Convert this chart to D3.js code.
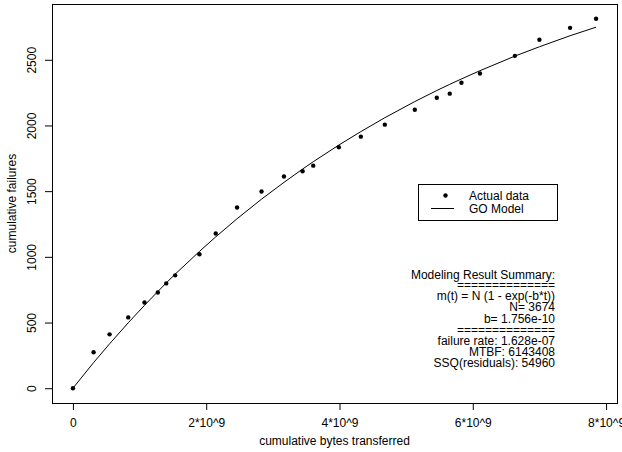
<!DOCTYPE html>
<html>
<head>
<meta charset="utf-8">
<script src="https://cdn.jsdelivr.net/npm/d3@7"></script>
<style>
  body { margin: 0; background: #fff; }
  svg, svg text { font-family: "Liberation Sans", Arial, sans-serif; }
  svg { display: block; }
  .tick text { font-size: 12px; fill: #000; }
  .tick line { stroke: #000; }
</style>
</head>
<body>
<svg id="chart" width="622" height="452"></svg>
<script>
// observed data (cumulative bytes, cumulative failures)
const bytes = [0, 0.31e9, 0.55e9, 0.83e9, 1.074e9, 1.274e9, 1.40e9, 1.534e9, 1.898e9, 2.143e9,
  2.463e9, 2.83e9, 3.167e9, 3.446e9, 3.606e9, 3.99e9, 4.32e9, 4.68e9, 5.13e9, 5.46e9,
  5.654e9, 5.83e9, 6.108e9, 6.632e9, 7.0e9, 7.46e9, 7.85e9];
const failures = [0, 274, 410, 539, 653, 729, 798, 859, 1020, 1178,
  1375, 1497, 1611, 1651, 1694, 1834, 1915, 2006, 2120, 2211,
  2242, 2325, 2396, 2530, 2652, 2743, 2812];
// GO model fitted values at the same points
const model = [0, 195, 338, 498, 631, 736, 801, 868, 1041, 1152,
  1290, 1439, 1567, 1668, 1724, 1851, 1953, 2059, 2182, 2266,
  2313, 2354, 2417, 2528, 2599, 2683, 2748];

const xTicks = [0, 2e9, 4e9, 6e9, 8e9];
const xTickLabels = ['0', '2*10^9', '4*10^9', '6*10^9', '8*10^9'];
const yTicks = [0, 500, 1000, 1500, 2000, 2500];

const legendLabels = ['Actual data', 'GO Model'];
const summaryLines = [
  'Modeling Result Summary:',
  '==============',
  'm(t) = N (1 - exp(-b*t))',
  'N= 3674',
  'b= 1.756e-10',
  '==============',
  'failure rate: 1.628e-07',
  'MTBF: 6143408',
  'SSQ(residuals): 54960'
];

const svg = d3.select('#chart');
const box = { left: 52, top: 4, right: 617, bottom: 403 };

// R-style 4% padding around the data range
const xExt = d3.extent(bytes);
const yExt = d3.extent(failures);
const xPad = (xExt[1] - xExt[0]) * 0.04;
const yPad = (yExt[1] - yExt[0]) * 0.04;

const x = d3.scaleLinear()
  .domain([xExt[0] - xPad, xExt[1] + xPad])
  .range([box.left, box.right]);
const y = d3.scaleLinear()
  .domain([yExt[0] - yPad, yExt[1] + yPad])
  .range([box.bottom, box.top]);

// axes
const xAxis = d3.axisBottom(x)
  .tickValues(xTicks)
  .tickFormat(d => xTickLabels[xTicks.indexOf(d)])
  .tickSize(7)
  .tickPadding(8)
  .tickSizeOuter(0);
svg.append('g')
  .attr('transform', `translate(0,${box.bottom})`)
  .call(xAxis)
  .call(g => g.select('.domain').remove());

const yAxis = d3.axisLeft(y)
  .tickValues(yTicks)
  .tickFormat(d3.format('d'))
  .tickSize(7)
  .tickSizeOuter(0);
svg.append('g')
  .attr('transform', `translate(${box.left},0)`)
  .call(yAxis)
  .call(g => g.select('.domain').remove())
  .call(g => g.selectAll('.tick text')
    .attr('x', 0)
    .attr('dy', '0')
    .attr('text-anchor', 'middle')
    .attr('transform', 'translate(-16,0) rotate(-90)'));

// plot frame
svg.append('rect')
  .attr('x', box.left + 0.5)
  .attr('y', box.top + 0.5)
  .attr('width', box.right - box.left)
  .attr('height', box.bottom - box.top)
  .attr('fill', 'none')
  .attr('stroke', '#000');

// axis titles
svg.append('text')
  .attr('x', (box.left + box.right) / 2)
  .attr('y', 445)
  .attr('text-anchor', 'middle')
  .attr('font-size', 12)
  .text('cumulative bytes transferred');
svg.append('text')
  .attr('transform', `translate(16,${(box.top + box.bottom) / 2}) rotate(-90)`)
  .attr('text-anchor', 'middle')
  .attr('font-size', 12)
  .text('cumulative failures');

// model curve
const pts = bytes.map((b, i) => [b, model[i]]);
const line = d3.line().x(d => x(d[0])).y(d => y(d[1]));
svg.append('path')
  .datum(pts)
  .attr('d', line)
  .attr('fill', 'none')
  .attr('stroke', '#000')
  .attr('stroke-width', 1);

// observed points
svg.append('g')
  .selectAll('circle')
  .data(bytes)
  .join('circle')
  .attr('cx', d => x(d))
  .attr('cy', (d, i) => y(failures[i]))
  .attr('r', 2.2)
  .attr('fill', '#000');

// legend
const lg = svg.append('g').attr('transform', 'translate(418,184)');
lg.append('rect')
  .attr('x', 0.5).attr('y', 0.5)
  .attr('width', 139).attr('height', 36)
  .attr('fill', '#fff')
  .attr('stroke', '#000');
lg.append('circle').attr('cx', 27.5).attr('cy', 11.5).attr('r', 2.2).attr('fill', '#000');
lg.append('line')
  .attr('x1', 13).attr('x2', 36)
  .attr('y1', 24.5).attr('y2', 24.5)
  .attr('stroke', '#000');
lg.selectAll('text.lab')
  .data(legendLabels)
  .join('text')
  .attr('class', 'lab')
  .attr('x', 51)
  .attr('y', (d, i) => 16 + i * 12.5)
  .attr('font-size', 12)
  .text(d => d);

// summary text
const summaryY = [275, 285, 296, 307, 318.5, 330, 340.5, 351.5, 362.5];
svg.append('g')
  .selectAll('text')
  .data(summaryLines)
  .join('text')
  .attr('x', 555)
  .attr('y', (d, i) => summaryY[i] + 4.3)
  .attr('text-anchor', 'end')
  .attr('font-size', 12)
  .text(d => d);
</script>
</body>
</html>
